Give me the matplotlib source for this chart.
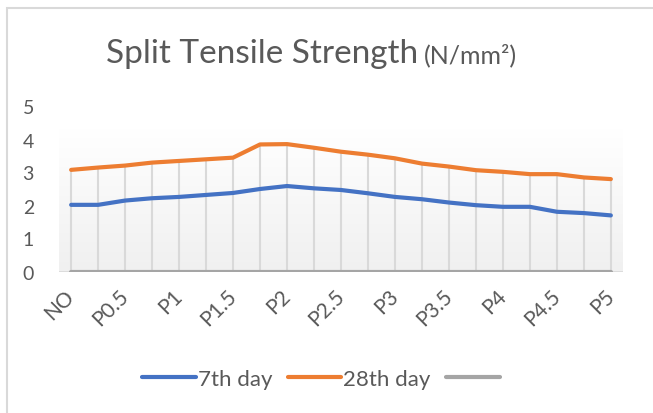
import numpy as np
import matplotlib.pyplot as plt
from matplotlib.colors import LinearSegmentedColormap
from matplotlib.patches import Rectangle

# categories (every second one labelled on the axis)
categories = ['NO', 'P0.25', 'P0.5', 'P0.75', 'P1', 'P1.25', 'P1.5', 'P1.75',
              'P2', 'P2.25', 'P2.5', 'P2.75', 'P3', 'P3.25', 'P3.5', 'P3.75',
              'P4', 'P4.25', 'P4.5', 'P4.75', 'P5']
day7 = [2.02, 2.02, 2.15, 2.22, 2.26, 2.32, 2.38, 2.50, 2.59, 2.52, 2.47,
        2.37, 2.26, 2.19, 2.09, 2.01, 1.96, 1.96, 1.81, 1.77, 1.70]
day28 = [3.08, 3.15, 3.21, 3.30, 3.35, 3.40, 3.45, 3.85, 3.86, 3.75, 3.63,
         3.54, 3.43, 3.27, 3.18, 3.07, 3.02, 2.95, 2.95, 2.85, 2.80]
third = [0] * len(categories)

plt.rcParams['font.family'] = ['Lato', 'DejaVu Sans']
txt = '#595959'

fig = plt.figure(figsize=(6.53, 4.14), dpi=100)
ax = fig.add_axes([59 / 653, 1 - 272.5 / 414, 564 / 653, 165 / 414])

x = np.arange(len(categories))
ax.set_xlim(-0.45, len(categories) - 1 + 0.45)
ax.set_ylim(0, 5)

# plot area gradient fill
grad = np.linspace(0, 1, 100).reshape(-1, 1)
cmap = LinearSegmentedColormap.from_list('g', ['#f0f0f0', '#ffffff'])
ax.imshow(grad, extent=[-0.45, len(categories) - 1 + 0.45, 0, 4.35],
          origin='lower', aspect='auto', cmap=cmap, zorder=0)

# drop lines
ax.vlines(x, 0, day28, color='#d9d9d9', lw=1.5, zorder=1)
ax.axhline(0, color='#d9d9d9', lw=1.2, zorder=1)

ax.plot(x, day7, color='#4472C4', lw=3, solid_capstyle='round', label='7th day', zorder=3)
ax.plot(x, day28, color='#ED7D31', lw=3, solid_capstyle='round', label='28th day', zorder=3)
ax.plot(x, third, color='#A5A5A5', lw=3, solid_capstyle='round', label=' ', zorder=3)

for s in ax.spines.values():
    s.set_visible(False)
ax.set_yticks(range(6))
ax.tick_params(axis='y', length=0, pad=18, labelsize=14, labelcolor=txt)
ax.set_xticks(x[::2])
ax.set_xticklabels(categories[::2], rotation=45, ha='right', va='center',
                   rotation_mode='anchor')
ax.tick_params(axis='x', length=0, pad=15, labelsize=15, labelcolor=txt)

# title
fig.text(418 / 653, 1 - 63 / 414, 'Split Tensile Strength', ha='right',
         va='baseline', fontsize=24, color=txt)
fig.text(424 / 653, 1 - 63 / 414, '(N/mm²)', ha='left', va='baseline',
         fontsize=18, color=txt)

fig.legend(loc='center', bbox_to_anchor=(325 / 653, 1 - 380 / 414), ncol=3,
           frameon=False, fontsize=16, labelcolor=txt, handlelength=2.4,
           handletextpad=0.1, columnspacing=0.7)

# chart border
fig.patches.append(Rectangle((7 / 653, -0.1), 1.2, 1 - 9 / 414 + 0.1,
                             transform=fig.transFigure, fill=False,
                             edgecolor='#d9d9d9', lw=1.5))

fig.savefig('out.png', dpi=100)
